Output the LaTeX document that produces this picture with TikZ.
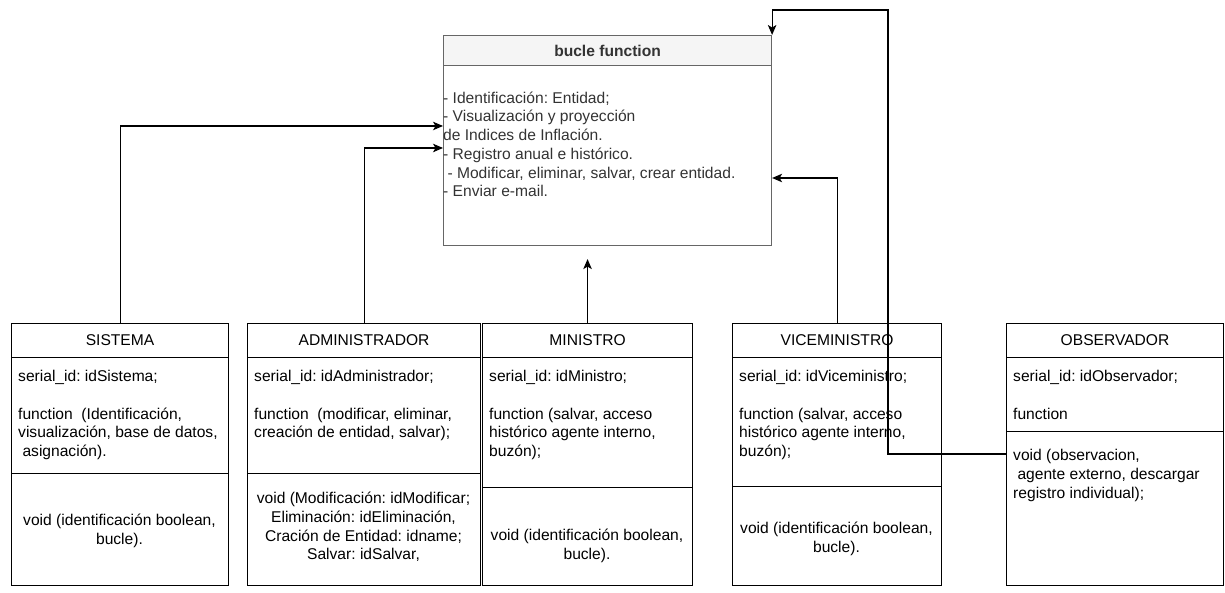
\documentclass[tikz,border=0pt]{standalone}
\usepackage{fontspec}
\setmainfont{Liberation Sans}
\usetikzlibrary{arrows.meta}
\frenchspacing

\definecolor{hdrfill}{HTML}{F5F5F5}
\definecolor{hdrline}{HTML}{666666}
\definecolor{hdrtext}{HTML}{333333}
\newcommand{\umlfont}{\fontsize{15.6pt}{18.7pt}\selectfont}
\newcommand{\leadsp}{\mbox{\ }}

\tikzset{
  part/.style={draw=black, line width=1.1pt, rectangle, inner sep=0pt, anchor=north west},
  fpart/.style={draw=hdrline, line width=1.1pt, rectangle, inner sep=0pt, anchor=north west},
  title/.style={inner sep=0pt, font=\umlfont},
  lefttext/.style={anchor=north west, inner sep=0pt, align=left, font=\umlfont},
  midtext/.style={anchor=north, inner sep=0pt, align=center, font=\umlfont},
  link/.style={line width=1.1pt, -{Stealth[length=10pt,width=8.5pt,inset=2.5pt]}}
}

\begin{document}
\begin{tikzpicture}[x=1pt,y=-1pt]
\useasboundingbox (0,0) rectangle (1225,593);

% ---- central class: bucle function ----
\node[fpart, fill=hdrfill, minimum width=328pt, minimum height=30pt] (bfh) at (443,35) {};
\node[fpart, minimum width=328pt, minimum height=180pt] (bf) at (443,65) {};
\node[title, text=hdrtext, font=\umlfont\bfseries] (bft) at (bfh.center) {bucle function};
\node[lefttext, text=hdrtext] (bfb) at (443,90) {\strut- Identificación: Entidad;\\
\strut- Visualización y proyección\\
\strut de Indices de Inflación.\\
\strut- Registro anual e histórico.\\
\strut\leadsp- Modificar, eliminar, salvar, crear entidad.\\
\strut- Enviar e-mail.};

% ---- SISTEMA ----
\node[part, minimum width=217pt, minimum height=34pt] (sish) at (11,323) {};
\node[part, minimum width=217pt, minimum height=116pt] (sisa) at (11,357) {};
\node[part, minimum width=217pt, minimum height=112pt] (sism) at (11,473) {};
\node[title] (sist) at (sish.center) {SISTEMA};
\node[lefttext] (sisat) at (18,368.5) {\strut serial\_id: idSistema;\\
\strut\\
\strut function~ (Identificación,\\
\strut visualización, base de datos,\\
\strut\leadsp asignación).};
\node[midtext] (sismt) at (119.5,512.4) {\strut void (identificación boolean,\\\strut bucle).};

% ---- ADMINISTRADOR ----
\node[part, minimum width=233pt, minimum height=34pt] (admh) at (247,323) {};
\node[part, minimum width=233pt, minimum height=116pt] (adma) at (247,357) {};
\node[part, minimum width=233pt, minimum height=112pt] (admm) at (247,473) {};
\node[title] (admt) at (admh.center) {ADMINISTRADOR};
\node[lefttext] (admat) at (254,368.5) {\strut serial\_id: idAdministrador;\\
\strut\\
\strut function~ (modificar, eliminar,\\
\strut creación de entidad, salvar);};
\node[midtext] (admmt) at (363.5,490.4) {\strut void (Modificación: idModificar;\\
\strut Eliminación: idEliminación,\\
\strut Cración de Entidad: idname;\\
\strut Salvar: idSalvar,};

% ---- MINISTRO ----
\node[part, minimum width=210pt, minimum height=34pt] (minh) at (482,323) {};
\node[part, minimum width=210pt, minimum height=130pt] (mina) at (482,357) {};
\node[part, minimum width=210pt, minimum height=98pt] (minm) at (482,487) {};
\node[title] (mint) at (minh.center) {MINISTRO};
\node[lefttext] (minat) at (489,368.5) {\strut serial\_id: idMinistro;\\
\strut\\
\strut function (salvar, acceso\\
\strut histórico agente interno,\\
\strut buzón);};
\node[midtext] (minmt) at (587,527.4) {\strut void (identificación boolean,\\\strut bucle).};

% ---- VICEMINISTRO ----
\node[part, minimum width=209pt, minimum height=34pt] (vich) at (732,323) {};
\node[part, minimum width=209pt, minimum height=129pt] (vica) at (732,357) {};
\node[part, minimum width=209pt, minimum height=99pt] (vicm) at (732,486) {};
\node[title] (vict) at (vich.center) {VICEMINISTRO};
\node[lefttext] (vicat) at (739,368.5) {\strut serial\_id: idViceministro;\\
\strut\\
\strut function (salvar, acceso\\
\strut histórico agente interno,\\
\strut buzón);};
\node[midtext] (vicmt) at (836.5,520.4) {\strut void (identificación boolean,\\\strut bucle).};

% ---- OBSERVADOR ----
\node[part, minimum width=217pt, minimum height=34pt] (obsh) at (1006,323) {};
\node[part, minimum width=217pt, minimum height=74pt] (obsa) at (1006,357) {};
\node[part, minimum width=217pt, minimum height=154pt] (obsm) at (1006,431) {};
\node[title] (obst) at (obsh.center) {OBSERVADOR};
\node[lefttext] (obsat) at (1013,368.5) {\strut serial\_id: idObservador;\\
\strut\\
\strut function};
\node[lefttext] (obsmt) at (1013,447.4) {\strut void (observacion,\\
\strut\leadsp agente externo, descargar\\
\strut registro individual);};

% ---- connectors ----
\coordinate (obsturn) at (888,10);
\path (minh.north |- bf.south) ++(0,13) coordinate (mintip);
\draw[link] (sish.north) |- ([yshift=-61pt]bf.north west);
\draw[link] (admh.north) |- ([yshift=-83pt]bf.north west);
\draw[link] (minh.north) -- (mintip);
\draw[link] (vich.north) |- ([yshift=-113pt]bf.north east);
\draw[link] ([yshift=-23pt]obsm.north west) -| (obsturn) -| (bfh.north east);

\end{tikzpicture}
\end{document}
